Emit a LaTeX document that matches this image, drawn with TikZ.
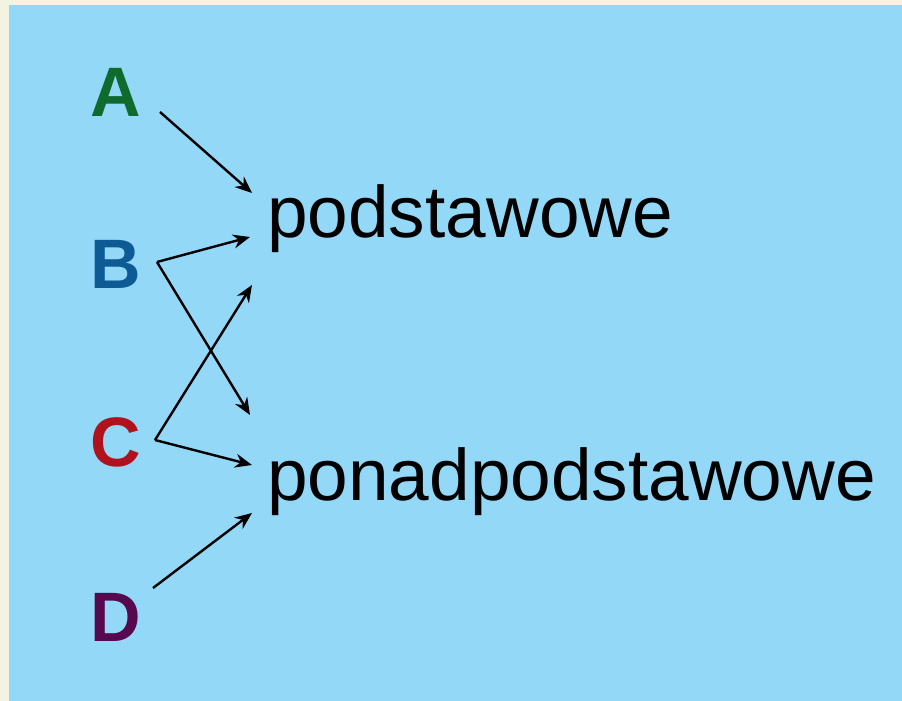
\documentclass[tikz,border=0pt]{standalone}
\usepackage{fontspec}
\setmainfont{Liberation Sans}
\usetikzlibrary{arrows.meta}
\definecolor{sky}{HTML}{93D8F6}
\definecolor{cream}{HTML}{F2F3E0}
\definecolor{lvlA}{HTML}{0E6B2D}
\definecolor{lvlB}{HTML}{0D5A95}
\definecolor{lvlC}{HTML}{B0121D}
\definecolor{lvlD}{HTML}{56094F}
\tikzset{
  level/.style={
    inner sep = 0pt,
    anchor = base,
    font = \fontsize{70}{74}\selectfont\bfseries
  },
  scope/.style={
    inner sep = 0pt,
    anchor = base west,
    font = \fontsize{73}{80}\selectfont
  },
  link/.style={
    line width = 2.4pt,
    -{Stealth[length=17pt,width=14pt]}
  }
}
\begin{document}
\begin{tikzpicture}[x=1pt,y=-1pt]
            \useasboundingbox (0,0) rectangle (902,701);
            \fill[cream] (0,0) rectangle (902,701);
            \fill[sky] (9,5) rectangle (902,701);
            \node[level,text=lvlA] (a) at (116,116) {A};
            \node[level,text=lvlB] (b) at (116,288) {B};
            \node[level,text=lvlC] (c) at (116,466) {C};
            \node[level,text=lvlD] (d) at (116,641) {D};
            \node[scope] (basic) at (267,237) {podstawowe};
            \node[scope] (extended) at (267,500) {ponadpodstawowe};
            % ends of the arrows
            \coordinate (a-out) at (160,112);
            \coordinate (b-out) at (157,262);
            \coordinate (c-out) at (155,440);
            \coordinate (d-out) at (153,588);
            \coordinate (basic-a) at (252,193);
            \coordinate (basic-b) at (250,237);
            \coordinate (basic-c) at (252,285);
            \coordinate (extended-b) at (250,415);
            \coordinate (extended-c) at (252,465);
            \coordinate (extended-d) at (252,513);
            \draw[link] (a-out)--(basic-a);
            \draw[link] (b-out)--(basic-b);
            \draw[link] (b-out)--(extended-b);
            \draw[link] (c-out)--(basic-c);
            \draw[link] (c-out)--(extended-c);
            \draw[link] (d-out)--(extended-d);
        \end{tikzpicture}
\end{document}
